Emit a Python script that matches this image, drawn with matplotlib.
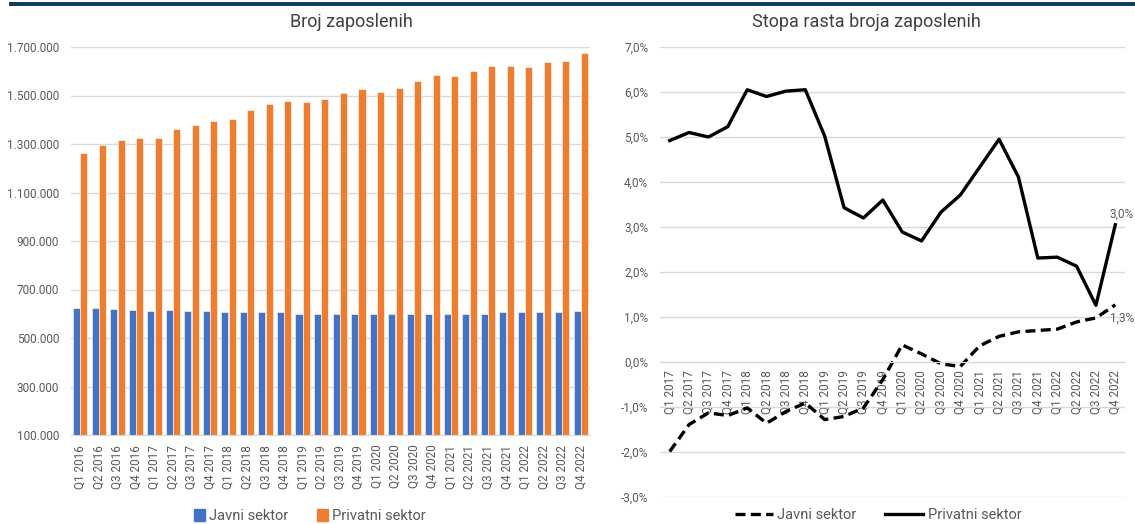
import numpy as np
import matplotlib.pyplot as plt
from matplotlib.patches import Rectangle
from matplotlib.lines import Line2D

plt.rcParams['font.family'] = ['Roboto', 'DejaVu Sans']

# === Data ===
quarters_lvl = [f"Q{q} {y}" for y in range(2016, 2023) for q in range(1, 5)]
javni = [625000, 625000, 620000, 616000, 611000, 616000, 611000, 611000,
         607000, 607000, 607000, 607000, 597000, 597000, 597000, 601000,
         601000, 601000, 597000, 601000, 601000, 601000, 601000, 607000,
         607000, 607000, 607000, 611000]
privatni = [1263000, 1296000, 1315000, 1325000, 1325000, 1361000, 1380000, 1394000,
            1404000, 1442000, 1464000, 1479000, 1475000, 1487000, 1511000, 1527000,
            1515000, 1529000, 1558000, 1585000, 1579000, 1603000, 1623000, 1623000,
            1618000, 1637000, 1641000, 1674000]

quarters_g = [f"Q{q} {y}" for y in range(2017, 2023) for q in range(1, 5)]
javni_g = [-1.99, -1.39, -1.13, -1.19, -1.02, -1.36, -1.10, -0.91,
           -1.28, -1.21, -1.02, -0.39, 0.38, 0.18, -0.04, -0.10,
           0.36, 0.57, 0.67, 0.70, 0.73, 0.89, 0.98, 1.27]
privatni_g = [4.92, 5.10, 5.00, 5.23, 6.05, 5.90, 6.02, 6.05,
              5.02, 3.43, 3.20, 3.60, 2.89, 2.69, 3.33, 3.71,
              4.33, 4.95, 4.11, 2.31, 2.33, 2.13, 1.26, 3.05]

BLUE = '#4472C4'
ORANGE = '#ED7D31'
GRID = '#D9D9D9'
TXT = '#595959'
TITLE = '#404040'

fig = plt.figure(figsize=(11.35, 5.24), dpi=100)
fig.add_artist(Rectangle((9 / 1135, 1 - 6 / 524), 1 - 9 / 1135, 4 / 524,
                         transform=fig.transFigure, color='#0F3E5F', lw=0))

# === Left: levels ===
ax1 = fig.add_axes([71 / 1135, 1 - 435 / 524, 519 / 1135, 388 / 524])
x = np.arange(len(quarters_lvl))
ax1.bar(x - 0.2, javni, width=0.38, color=BLUE, edgecolor='white', linewidth=0.4, label='Javni sektor')
ax1.bar(x + 0.2, privatni, width=0.38, color=ORANGE, edgecolor='white', linewidth=0.4, label='Privatni sektor')
ax1.set_xlim(-0.5, len(x) - 0.5)
ax1.set_ylim(100000, 1700000)
ax1.set_yticks(range(100000, 1700001, 200000))
ax1.set_yticklabels([f"{v:,}".replace(',', '.') for v in range(100000, 1700001, 200000)])
ax1.set_xticks(x)
ax1.set_xticklabels(quarters_lvl, rotation=90)
ax1.grid(axis='y', color=GRID, lw=1)
ax1.set_axisbelow(True)
for s in ['top', 'right', 'left']:
    ax1.spines[s].set_visible(False)
ax1.spines['bottom'].set_color(GRID)
ax1.tick_params(length=0, colors=TXT, labelsize=8.5)
ax1.tick_params(axis='y', pad=8.5)
ax1.tick_params(axis='x', pad=7)
fig.text(351 / 1135, 1 - 22 / 524, 'Broj zaposlenih', ha='center', va='center',
         fontsize=13, color=TITLE)
fig.legend(handles=[Rectangle((0, 0), 1, 1, color=BLUE), Rectangle((0, 0), 1, 1, color=ORANGE)],
           labels=['Javni sektor', 'Privatni sektor'], loc='center',
           bbox_to_anchor=(310 / 1135, 1 - 516 / 524), ncol=2, frameon=False,
           fontsize=10.5, labelcolor=TXT, handlelength=0.7, handleheight=0.9,
           handletextpad=0.3, columnspacing=2.0)

# === Right: growth rates ===
ax2 = fig.add_axes([660 / 1135, 1 - 497 / 524, 465 / 1135, 450 / 524])
ax2.spines['bottom'].set_position(('data', 0))
xg = np.arange(len(quarters_g))
ax2.plot(xg, javni_g, color='black', lw=2.4, ls=(0, (3, 1.6)))
ax2.plot(xg, privatni_g, color='black', lw=2.4)
ax2.set_xlim(-0.5, len(xg) - 0.5)
ax2.set_ylim(-3, 7)
ax2.set_yticks(range(-3, 8))
ax2.set_yticklabels([f"{v:.1f}%".replace('.', ',') for v in range(-3, 8)])
ax2.set_xticks(xg)
ax2.set_xticklabels(quarters_g, rotation=90)
ax2.grid(axis='y', color=GRID, lw=1)
ax2.set_axisbelow(True)
for s in ['top', 'right', 'left']:
    ax2.spines[s].set_visible(False)
ax2.spines['bottom'].set_color(GRID)
ax2.tick_params(length=0, colors=TXT, labelsize=8.5)
ax2.tick_params(axis='x', pad=6)
ax2.tick_params(axis='y', pad=8.5)
ax2.annotate(f"{privatni_g[-1]:.1f}%".replace('.', ','), (xg[-1], privatni_g[-1]),
             xytext=(-4, 3), textcoords='offset points', ha='left', va='bottom',
             fontsize=8.5, color=TXT, annotation_clip=False)
ax2.annotate(f"{javni_g[-1]:.1f}%".replace('.', ','), (xg[-1], javni_g[-1]),
             xytext=(-4, -5), textcoords='offset points', ha='left', va='top',
             fontsize=8.5, color=TXT, annotation_clip=False)
fig.text(866 / 1135, 1 - 22 / 524, 'Stopa rasta broja zaposlenih', ha='center', va='center',
         fontsize=13, color=TITLE)
fig.legend(handles=[Line2D([], [], color='black', lw=2.4, ls=(0, (3, 1.6))),
                    Line2D([], [], color='black', lw=2.4)],
           labels=['Javni sektor', 'Privatni sektor'], loc='center',
           bbox_to_anchor=(878 / 1135, 1 - 515 / 524), ncol=2, frameon=False,
           fontsize=10.5, labelcolor=TXT, handlelength=2.6, handletextpad=0.3,
           columnspacing=2.0)

fig.savefig('out.png', dpi=100)
